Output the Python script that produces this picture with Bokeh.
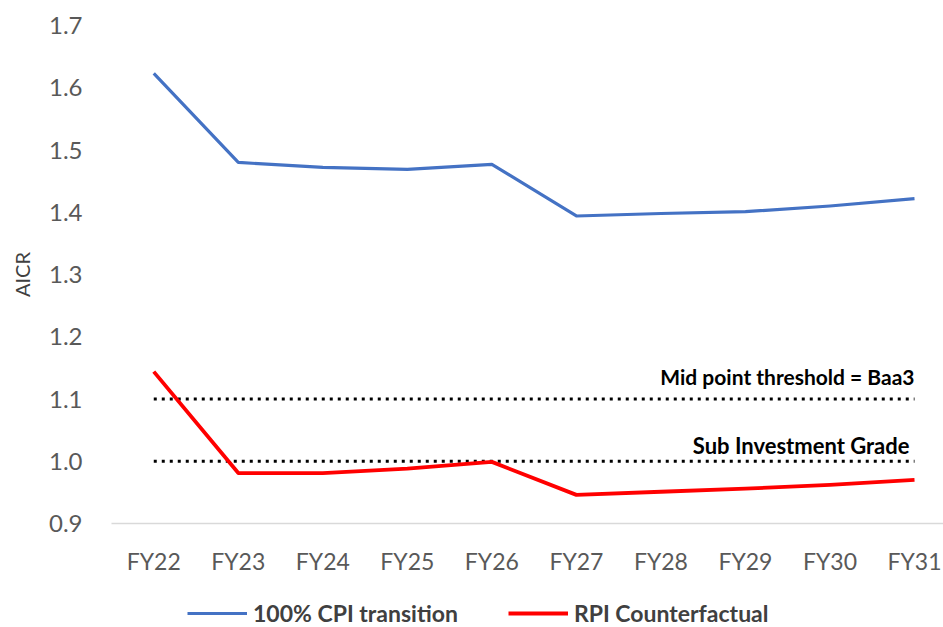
from bokeh.plotting import figure
from bokeh.layouts import column
from bokeh.models import (FixedTicker, Range1d, Legend, LegendItem, Label)
from bokeh.embed import file_html
from bokeh.resources import INLINE

categories = ["FY22", "FY23", "FY24", "FY25", "FY26", "FY27", "FY28", "FY29", "FY30", "FY31"]
cpi_transition = [1.623, 1.480, 1.472, 1.469, 1.477, 1.394, 1.398, 1.401, 1.410, 1.422]
rpi_counterfactual = [1.144, 0.981, 0.981, 0.988, 0.999, 0.946, 0.951, 0.956, 0.962, 0.970]
midpoint_threshold = [1.1] * len(categories)
sub_investment = [1.0] * len(categories)
y_ticks = [0.9, 1.0, 1.1, 1.2, 1.3, 1.4, 1.5, 1.6, 1.7]
series_names = ["100% CPI transition", "RPI Counterfactual"]
series_colors = ["#4472C4", "#FF0000"]

FONT = "Lato"
xs = list(range(len(categories)))

p = figure(width=943, height=590, output_backend="svg", toolbar_location=None,
           x_range=Range1d(-0.5, 9.343), y_range=Range1d(0.9, 1.7),
           min_border_left=111, min_border_right=0, min_border_top=25, min_border_bottom=67)
p.outline_line_color = None
p.grid.visible = False
p.background_fill_color = "white"
p.border_fill_color = "white"

# axes
p.xaxis.ticker = FixedTicker(ticks=xs)
p.xaxis.major_label_overrides = {i: c for i, c in enumerate(categories)}
p.xaxis.axis_line_color = "#D9D9D9"
p.xaxis.axis_line_width = 1.5
p.xaxis.major_tick_line_color = None
p.xaxis.minor_tick_line_color = None
p.xaxis.major_label_text_font = FONT
p.xaxis.major_label_text_font_size = "23px"
p.xaxis.major_label_text_color = "#595959"
p.xaxis.major_label_standoff = 17

p.yaxis.ticker = FixedTicker(ticks=y_ticks)
p.yaxis.major_label_overrides = {t: f"{t:.1f}" for t in y_ticks}
p.yaxis.axis_line_color = None
p.yaxis.major_tick_line_color = None
p.yaxis.minor_tick_line_color = None
p.yaxis.major_label_text_font = FONT
p.yaxis.major_label_text_font_size = "24px"
p.yaxis.major_label_text_color = "#595959"
p.yaxis.major_label_standoff = 23
p.yaxis.axis_label = "AICR"
p.yaxis.axis_label_text_font = FONT
p.yaxis.axis_label_text_font_style = "normal"
p.yaxis.axis_label_text_font_size = "20px"
p.yaxis.axis_label_text_color = "#404040"
p.yaxis.axis_label_standoff = 12

# threshold lines
p.line(xs, midpoint_threshold, line_color="black", line_width=3, line_dash="3 5")
p.line(xs, sub_investment, line_color="black", line_width=3, line_dash="3 5")

# series
p.line(xs, cpi_transition, line_color=series_colors[0], line_width=3.2, line_join="round")
p.line(xs, rpi_counterfactual, line_color=series_colors[1], line_width=3.8, line_join="round")

# threshold labels
p.add_layout(Label(x=9, y=1.1, x_offset=0, y_offset=23, text="Mid point threshold = Baa3",
                   text_align="right", text_baseline="middle", text_font=FONT,
                   text_font_style="bold", text_font_size="21px", text_color="#000000"))
p.add_layout(Label(x=9, y=1.0, x_offset=-5, y_offset=16, text="Sub Investment Grade",
                   text_align="right", text_baseline="middle", text_font=FONT,
                   text_font_style="bold", text_font_size="22px", text_color="#000000"))

# legend strip below the chart (its series renderers sit outside its visible range)
leg = figure(width=943, height=37, output_backend="svg", toolbar_location=None,
             x_axis_location=None, y_axis_location=None,
             x_range=Range1d(-0.5, 9.343), y_range=Range1d(5, 6),
             min_border_left=0, min_border_right=0, min_border_top=0, min_border_bottom=0)
leg.outline_line_color = None
leg.grid.visible = False
lr1 = leg.line(xs, cpi_transition, line_color=series_colors[0], line_width=3.2)
lr2 = leg.line(xs, rpi_counterfactual, line_color=series_colors[1], line_width=3.8)
legend = Legend(items=[LegendItem(label=series_names[0], renderers=[lr1]),
                       LegendItem(label=series_names[1], renderers=[lr2])],
                orientation="horizontal", location=(76, 0),
                glyph_width=60, glyph_height=24, label_standoff=6, spacing=50,
                padding=0, margin=0, border_line_color=None, background_fill_alpha=0,
                label_text_font=FONT, label_text_font_size="23px",
                label_text_font_style="bold", label_text_color="#404040")
leg.add_layout(legend, "center")

layout = column(p, leg, spacing=0)
open("out.html", "w").write(file_html(layout, INLINE))
